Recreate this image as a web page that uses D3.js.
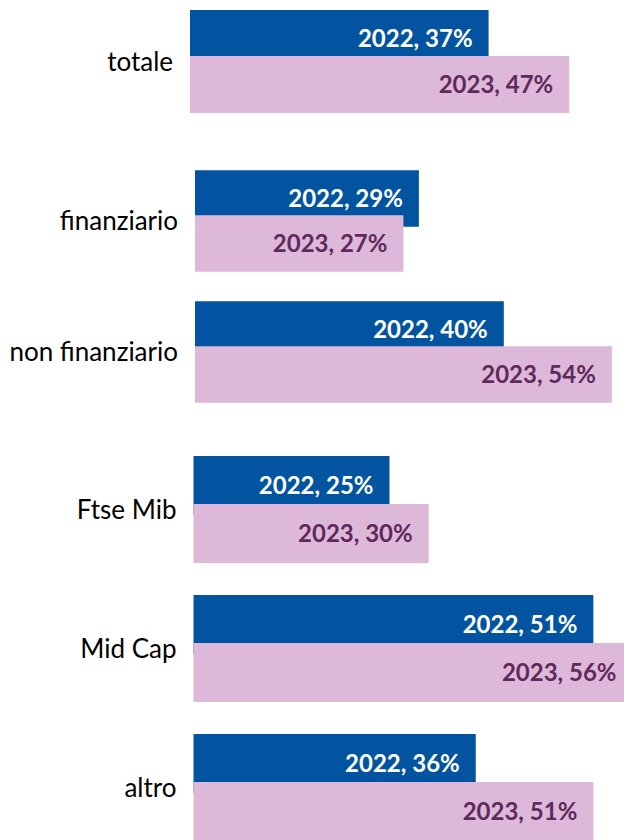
<!DOCTYPE html>
<html>
<head>
<meta charset="utf-8">
<script src="https://cdn.jsdelivr.net/npm/d3@7"></script>
<style>
  html, body { margin: 0; padding: 0; background: #fff; overflow: hidden; }
  svg { display: block; }
</style>
</head>
<body>
<svg id="chart" width="624" height="840"></svg>
<script>
// ---- data ----
const categories = ["totale", "finanziario", "non finanziario", "Ftse Mib", "Mid Cap", "altro"];
const seriesNames = ["2022", "2023"];
const values2022 = [37, 29, 40, 25, 51, 36];
const values2023 = [47, 27, 54, 30, 56, 51];
const panelIndex = [0, 1, 1, 2, 2, 2];

// ---- layout (three stacked sub-charts) ----
const panels = [
  { x0: 190,   ppp: 8.07, c0: 61.5,  step: 131, h: 57,   off: 46 },
  { x0: 195,   ppp: 7.72, c0: 221,   step: 131, h: 56.5, off: 45 },
  { x0: 193.5, ppp: 7.84, c0: 509.5, step: 139, h: 59,   off: 48 }
];
const colors = { "2022": "#0254A0", "2023": "#DEB8D9" };
const labelColors = { "2022": "#FFFFFF", "2023": "#5E2A5C" };

const svg = d3.select("#chart");

panels.forEach((p, pi) => {
  const cats = categories.filter((c, i) => panelIndex[i] === pi);
  const x = d3.scaleLinear().domain([0, 100]).range([p.x0, p.x0 + 100 * p.ppp]);
  const y = d3.scaleBand().domain(cats)
    .range([p.c0 - p.step / 2, p.c0 - p.step / 2 + cats.length * p.step])
    .paddingInner(0).paddingOuter(0);
  const rows = cats.map(c => {
    const i = categories.indexOf(c);
    return { cat: c, v: [values2022[i], values2023[i]] };
  });

  const g = svg.append("g");

  // category labels
  g.selectAll("text.cat").data(rows).join("text")
    .attr("class", "cat")
    .attr("x", x(0) - 17)
    .attr("y", d => y(d.cat) + y.bandwidth() / 2)
    .attr("dy", "0.35em")
    .attr("text-anchor", "end")
    .attr("font-family", "Lato, 'Open Sans', sans-serif")
    .attr("font-size", 26)
    .attr("fill", "#000")
    .text(d => d.cat);

  seriesNames.forEach((s, si) => {
    const top = d => y(d.cat) + y.bandwidth() / 2 - (p.off + p.h) / 2 + si * p.off;
    g.selectAll("rect.s" + si).data(rows).join("rect")
      .attr("class", "s" + si)
      .attr("x", x(0))
      .attr("y", top)
      .attr("width", d => x(d.v[si]) - x(0))
      .attr("height", p.h)
      .attr("fill", colors[s]);
    g.selectAll("text.l" + si).data(rows).join("text")
      .attr("class", "l" + si)
      .attr("x", d => x(d.v[si]) - 16)
      .attr("y", d => top(d) + p.h / 2)
      .attr("dy", "0.35em")
      .attr("text-anchor", "end")
      .attr("font-family", "Lato, 'Open Sans', sans-serif")
      .attr("font-weight", "bold")
      .attr("font-size", 24)
      .attr("fill", labelColors[s])
      .text(d => s + ", " + d.v[si] + "%");
  });
});
</script>
</body>
</html>
